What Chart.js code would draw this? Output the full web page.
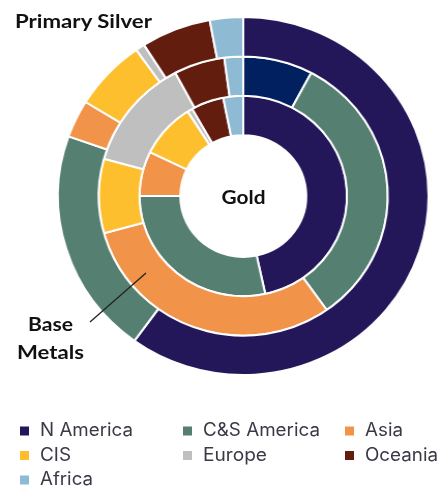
<!DOCTYPE html>
<html><head><meta charset="utf-8">
<script src="https://cdn.jsdelivr.net/npm/chart.js@4/dist/chart.umd.min.js"></script>
<style>
html,body{margin:0;padding:0;background:#fff;}
#wrap{position:relative;width:442px;height:489px;overflow:hidden;}
#cv{position:absolute;left:0;top:0;}
#ov{position:absolute;left:0;top:0;}
</style></head>
<body><div id="wrap">
<canvas id="cv" width="427" height="400" style="width:442px;height:400px;"></canvas>
<svg id="ov" width="442" height="489" xmlns="http://www.w3.org/2000/svg"></svg>
</div>
<script>
const regions = ["N America","C&S America","Asia","CIS","Europe","Oceania","Africa"];
const silverValues = [60.0,20.4,3.4,6.4,0.8,6.1,2.9];
const baseMetalValues = [7.8,32.4,30.5,8.6,12.9,5.7,2.1];
const goldValues = [46.6,28.4,7.2,8.8,0.8,5.1,3.1];
const ringNames = ["Primary Silver","Base Metals","Gold"];
const colors = ["#23175a","#557f71","#f19349","#fdbf2d","#bfbfbf","#621d0e","#8fbad3"];
const baseColors = ["#002060","#557f71","#f19349","#fdbf2d","#bfbfbf","#621d0e","#8fbad3"];

new Chart(document.getElementById('cv'), {
  type:'doughnut',
  data:{
    labels: regions,
    datasets:[
      {label:ringNames[0], data:silverValues, backgroundColor:colors, borderColor:'#fff', borderWidth:2},
      {label:ringNames[1], data:baseMetalValues, backgroundColor:baseColors, borderColor:'#fff', borderWidth:2},
      {label:ringNames[2], data:goldValues, backgroundColor:colors, borderColor:'#fff', borderWidth:2}
    ]
  },
  options:{
    responsive:false,
    animation:false,
    cutout:'34%',
    layout:{padding:{left:55,right:12,top:16,bottom:24}},
    plugins:{legend:{display:false},tooltip:{enabled:false}}
  }
});

const NS='http://www.w3.org/2000/svg';
const svg=document.getElementById('ov');
function txt(s,x,y,opts){
  const t=document.createElementNS(NS,'text');
  t.setAttribute('x',x);t.setAttribute('y',y);
  for(const k in opts) t.setAttribute(k,opts[k]);
  t.textContent=s; svg.appendChild(t); return t;
}
const bold={'font-family':'Lato,"Open Sans",sans-serif','font-weight':'bold','font-size':'18.5','fill':'#111'};
txt(ringNames[0],15,27.5,Object.assign({textLength:137,lengthAdjust:'spacingAndGlyphs'},bold));
txt('Base',28,330.5,Object.assign({textLength:45,lengthAdjust:'spacingAndGlyphs'},bold));
txt('Metals',17,358.5,Object.assign({textLength:67,lengthAdjust:'spacingAndGlyphs'},bold));
txt(ringNames[2],221.5,203.5,Object.assign({textLength:44,lengthAdjust:'spacingAndGlyphs'},bold));
const ln=document.createElementNS(NS,'line');
ln.setAttribute('x1',90);ln.setAttribute('y1',322);ln.setAttribute('x2',146);ln.setAttribute('y2',273);
ln.setAttribute('stroke','#222');ln.setAttribute('stroke-width','1.3');
svg.appendChild(ln);

const colX=[20,183,345];
const widths={"N America":93,"C&S America":117,"Asia":38,"CIS":31,"Europe":64,"Oceania":73,"Africa":53};
regions.forEach((r,i)=>{
  const col=i%3,row=Math.floor(i/3);
  const by=436+row*24.5;
  const rc=document.createElementNS(NS,'rect');
  rc.setAttribute('x',colX[col]);rc.setAttribute('y',by-9.5);
  rc.setAttribute('width',9);rc.setAttribute('height',9);
  rc.setAttribute('fill',colors[i]);svg.appendChild(rc);
  txt(r,colX[col]+20,by,{'font-family':'Inter,"Open Sans",sans-serif','font-size':'18','fill':'#3a3a46',textLength:widths[r],lengthAdjust:'spacingAndGlyphs'});
});
</script>
</body></html>
